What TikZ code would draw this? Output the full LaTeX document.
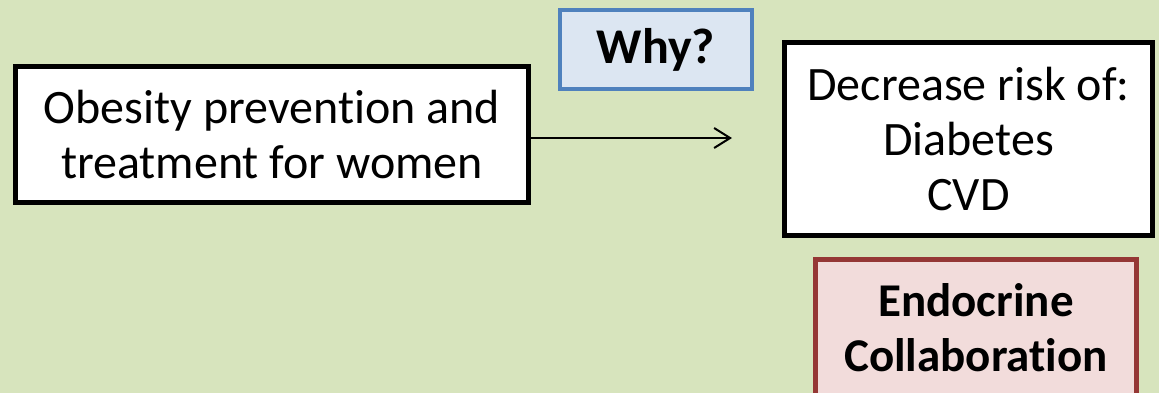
\documentclass[tikz,border=0pt]{standalone}
\usepackage{fontspec}
\setmainfont{Carlito}[Ligatures = NoCommon]
\usetikzlibrary{arrows.meta}
\definecolor{bgGreen}{HTML}{D7E4BD}
\definecolor{whyFill}{HTML}{DCE6F2}
\definecolor{whyDraw}{HTML}{4F81BD}
\definecolor{endoFill}{HTML}{F2DCDB}
\definecolor{endoDraw}{HTML}{953735}
\tikzstyle{plainBox}=[shape = rectangle, draw = black, fill = white, line width = 5pt, align = center, inner sep = 0pt, font = \fontsize{48}{55}\selectfont]
\tikzstyle{whyBox}=[shape = rectangle, draw = whyDraw, fill = whyFill, line width = 4.5pt, align = center, inner sep = 0pt, font = \fontsize{50}{56}\selectfont\bfseries]
\tikzstyle{endoBox}=[shape = rectangle, draw = endoDraw, fill = endoFill, line width = 5pt, align = center, inner sep = 0pt, font = \fontsize{47}{55}\selectfont\bfseries]

\begin{document}
\begin{tikzpicture}[x = 1pt, y = -1pt]
\useasboundingbox (0,0) rectangle (1159,392);
\fill[bgGreen] (-5,-5) rectangle (1164,397);
\node[plainBox, minimum width = 513pt, minimum height = 136pt] (obesity) at (272,134.5) {Obesity prevention and\\treatment for women};
\node[whyBox, minimum width = 192pt, minimum height = 79pt] (why) at (656,49.5) {Why?};
\node[plainBox, minimum width = 368pt, minimum height = 193pt] (risk) at (968.5,139) {Decrease risk of:\\Diabetes\\CVD};
\node[endoBox, minimum width = 321pt, minimum height = 136pt] (endo) at (976,327.5) {Endocrine\\Collaboration};
\coordinate (tip) at (732,138);
\draw[line width = 2pt, -{Straight Barb[length = 16pt, width = 20pt]}] (obesity.east |- tip) -- (tip);
\end{tikzpicture}
\end{document}
